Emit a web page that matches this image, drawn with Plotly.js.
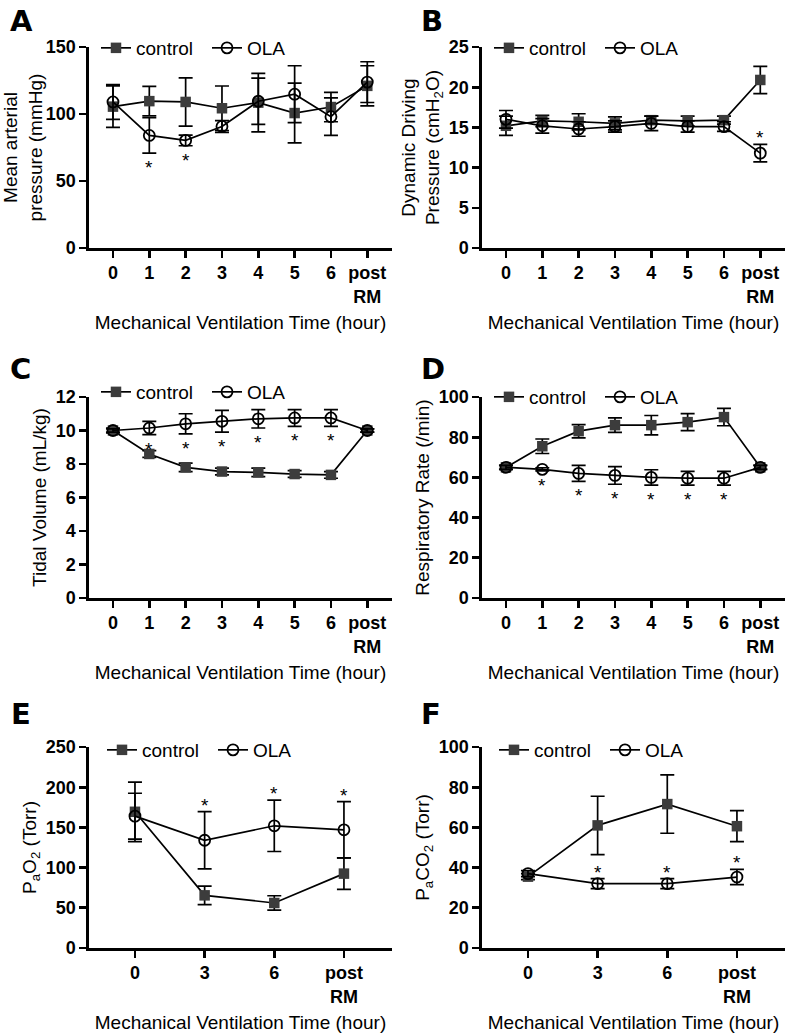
<!DOCTYPE html>
<html><head><meta charset="utf-8">
<script src="https://cdn.plot.ly/plotly-3.0.1.min.js"></script>
<style>html,body{margin:0;padding:0;background:#fff}</style>
</head><body><div id="chart" style="width:787px;height:1033px"></div>
<script>
// ---------- categories / tick labels ----------
const hourlyTimes = ['0','1','2','3','4','5','6','post<br>RM'];
const gasTimes    = ['0','3','6','post<br>RM'];

// ---------- A: Mean arterial pressure (mmHg) ----------
const mapControl    = [105.5, 109.6, 109, 104.3, 108.5, 100.7, 105.2, 121];
const mapControlErr = [15.5, 11, 18, 16.6, 21.8, 22.3, 11, 15];
const mapOLA        = [109, 84, 80.3, 90.7, 109.5, 114.8, 98, 123.8];
const mapOLAErr     = [13, 13.2, 4, 4.4, 17.2, 21.2, 14, 15.2];
const mapSig        = [0,1,1,0,0,0,0,0];

// ---------- B: Dynamic driving pressure (cmH2O) ----------
const ddpControl    = [15.2, 15.8, 15.7, 15.5, 15.9, 15.8, 15.9, 20.9];
const ddpControlErr = [1.2, 0.7, 1.0, 0.8, 0.5, 0.6, 0.5, 1.7];
const ddpOLA        = [16.0, 15.2, 14.8, 15.1, 15.5, 15.1, 15.1, 11.8];
const ddpOLAErr     = [1.1, 0.9, 0.9, 0.7, 0.9, 0.7, 0.6, 1.1];
const ddpSig        = [0,0,0,0,0,0,0,1];

// ---------- C: Tidal volume (mL/kg) ----------
const tvControl     = [10.0, 8.6, 7.8, 7.55, 7.5, 7.4, 7.35, 10.0];
const tvControlErr  = [0.15, 0.2, 0.25, 0.2, 0.25, 0.2, 0.2, 0.1];
const tvOLA         = [10.0, 10.15, 10.4, 10.55, 10.7, 10.75, 10.75, 10.0];
const tvOLAErr      = [0.1, 0.4, 0.6, 0.65, 0.55, 0.5, 0.5, 0.1];
const tvSig         = [0,1,1,1,1,1,1,0];

// ---------- D: Respiratory rate (/min) ----------
const rrControl     = [65, 75.5, 83, 86, 86, 87.5, 90, 65];
const rrControlErr  = [1, 3.6, 3.3, 3.6, 4.8, 4.2, 4.3, 1];
const rrOLA         = [65, 64, 62, 61, 60, 59.6, 59.6, 65];
const rrOLAErr      = [1, 0.8, 4, 4.4, 3.8, 3.4, 3.4, 1];
const rrSig         = [0,1,1,1,1,1,1,0];

// ---------- E: PaO2 (Torr) ----------
const pao2Control    = [169.4, 65.5, 56, 92.5];
const pao2ControlErr = [37, 11.5, 9, 19.5];
const pao2OLA        = [164, 134, 152, 147];
const pao2OLAErr     = [28.5, 35.5, 32, 35];
const pao2Sig        = [0,1,1,1];

// ---------- F: PaCO2 (Torr) ----------
const paco2Control    = [35.5, 61, 71.6, 60.6];
const paco2ControlErr = [1.5, 14.5, 14.5, 7.7];
const paco2OLA        = [37, 32, 32, 35.3];
const paco2OLAErr     = [1.5, 2.5, 2.5, 3.8];
const paco2Sig        = [0,1,1,1];

const W = 787, H = 1033;
const FONT = 'Liberation Sans, Arial, sans-serif';
const px = v => v / W;
const py = v => 1 - v / H;

const panels = [
  {letter:'A', cats:hourlyTimes, c:mapControl, ce:mapControlErr, o:mapOLA, oe:mapOLAErr, sig:mapSig, side:'below',
   ytitle:'Mean arterial<br>pressure (mmHg)', yr:[0,150], dt:50, col:0, row:0},
  {letter:'B', cats:hourlyTimes, c:ddpControl, ce:ddpControlErr, o:ddpOLA, oe:ddpOLAErr, sig:ddpSig, side:'above',
   ytitle:'Dynamic Driving<br>Pressure (cmH<sub>2</sub>O)', yr:[0,25], dt:5, col:1, row:0},
  {letter:'C', cats:hourlyTimes, c:tvControl, ce:tvControlErr, o:tvOLA, oe:tvOLAErr, sig:tvSig, side:'below',
   ytitle:'Tidal Volume (mL/kg)', yr:[0,12], dt:2, col:0, row:1},
  {letter:'D', cats:hourlyTimes, c:rrControl, ce:rrControlErr, o:rrOLA, oe:rrOLAErr, sig:rrSig, side:'below',
   ytitle:'Respiratory Rate (/min)', yr:[0,100], dt:20, col:1, row:1},
  {letter:'E', cats:gasTimes, c:pao2Control, ce:pao2ControlErr, o:pao2OLA, oe:pao2OLAErr, sig:pao2Sig, side:'above',
   ytitle:'P<sub>a</sub>O<sub>2</sub> (Torr)', yr:[0,250], dt:50, col:0, row:2},
  {letter:'F', cats:gasTimes, c:paco2Control, ce:paco2ControlErr, o:paco2OLA, oe:paco2OLAErr, sig:paco2Sig, side:'above',
   ytitle:'P<sub>a</sub>CO<sub>2</sub> (Torr)', yr:[0,100], dt:20, col:1, row:2}
];

const colX = [[89, 392], [482, 785]];
const rowY = [[47, 248], [397, 598], [747, 948]];
const legendPos = [[96, 48], [489, 48], [96, 392], [489, 397], [102, 750], [494, 750]];
const letterPos = [[8, 2], [419, 2], [8, 350], [419, 350], [9, 695], [419, 695]];

const data = [];
const layout = {
  width: W, height: H,
  margin: {l:0, r:0, t:0, b:0},
  paper_bgcolor: '#fff', plot_bgcolor: '#fff',
  font: {family: FONT, color: '#000'},
  annotations: [],
  hovermode: false
};

panels.forEach((p, i) => {
  const n = i + 1;
  const xa = 'x' + (n === 1 ? '' : n), ya = 'y' + (n === 1 ? '' : n);
  const legId = 'legend' + (n === 1 ? '' : n);
  const err = arr => ({type:'data', array:arr, visible:true, color:'#000', thickness:1.7, width:7});
  data.push({
    x: p.cats, y: p.c, name: 'control', type: 'scatter', mode: 'lines+markers',
    xaxis: xa, yaxis: ya, legend: legId, error_y: err(p.ce), cliponaxis: false,
    line: {color:'#000', width:1.7},
    marker: {symbol:'square', size:10.5, color:'#3c3c3c'}
  });
  data.push({
    x: p.cats, y: p.o, name: 'OLA', type: 'scatter', mode: 'lines+markers',
    xaxis: xa, yaxis: ya, legend: legId, error_y: err(p.oe), cliponaxis: false,
    line: {color:'#000', width:1.7},
    marker: {symbol:'circle-open', size:11, color:'#000', line:{width:1.8}}
  });
  const nc = p.cats.length;
  const [x0, x1] = colX[p.col];
  const [yt, yb] = rowY[p.row];
  const axCommon = {
    showline:true, linewidth:2.6, linecolor:'#000', ticks:'outside', ticklen:7, tickwidth:2.6,
    tickcolor:'#000', showgrid:false, zeroline:false, fixedrange:true,
    tickfont:{family:FONT, size:18, weight:'bold', color:'#000'}
  };
  layout['xaxis' + (n === 1 ? '' : n)] = Object.assign({}, axCommon, {
    domain:[px(x0), px(x1)], anchor: ya, type:'category',
    range: nc === 8 ? [-0.66, 7.68] : [-0.66, 3.69],
    title:{text:'Mechanical Ventilation Time (hour)', font:{family:FONT, size:19, color:'#000'}, standoff:10}
  });
  layout['yaxis' + (n === 1 ? '' : n)] = Object.assign({}, axCommon, {
    domain:[py(yb), py(yt)], anchor: xa, range: p.yr, dtick: p.dt, tick0: 0,
    title:{text:p.ytitle, font:{family:FONT, size:19, color:'#000'}, standoff:4}
  });
  layout[legId] = {
    orientation:'h', x: px(legendPos[i][0]), y: py(legendPos[i][1]), xanchor:'left', yanchor:'middle',
    font:{family:FONT, size:19, color:'#000'}, bgcolor:'rgba(0,0,0,0)', itemclick:false, itemdoubleclick:false,
    tracegroupgap:0, entrywidth:66
  };
  // significance stars (x given as category index)
  p.sig.forEach((s, k) => {
    if (!s) return;
    const below = p.side === 'below';
    layout.annotations.push({
      xref: xa, yref: ya, x: k,
      y: below ? p.o[k] - p.oe[k] : p.o[k] + p.oe[k],
      yanchor: below ? 'top' : 'bottom', yshift: below ? -2 : -6,
      text: '*', showarrow: false, font: {family:FONT, size:19, color:'#000'}
    });
  });
  // panel letter
  layout.annotations.push({
    xref:'paper', yref:'paper', x: px(letterPos[i][0]), y: py(letterPos[i][1]),
    xanchor:'left', yanchor:'top', text:'<b>' + p.letter + '</b>', showarrow:false,
    font:{family:'DejaVu Sans, Liberation Sans, sans-serif', size:29, color:'#000'}
  });
});

Plotly.newPlot('chart', data, layout, {staticPlot:true, displayModeBar:false});
</script>
</body></html>
